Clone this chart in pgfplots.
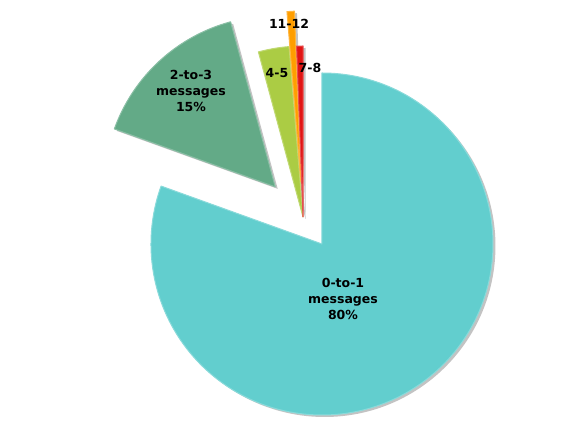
\documentclass[border=0pt]{standalone}
\usepackage{pgfplots}
\pgfplotsset{compat=1.18}
\usepackage{fontspec}
\setmainfont{DejaVu Sans}
\usetikzlibrary{calc}
\definecolor{cA}{RGB}{98,206,206}
\definecolor{cB}{RGB}{99,170,135}
\definecolor{cC}{RGB}{171,204,68}
\definecolor{cD}{RGB}{255,158,0}
\definecolor{cE}{RGB}{225,20,20}
\definecolor{shadowgray}{RGB}{195,195,195}
% slice shares (percent), in drawing order (clockwise from 12 o'clock)
\def\vA{80.5}% 0-to-1 messages
\def\vB{15.3}% 2-to-3 messages
\def\vC{2.9}% 4-5
\def\vD{0.7}% 11-12
\def\vE{0.6}% 7-8
\newcommand\slicepath[3]{% start, end, explode
  ($(axis cs:303,211)+({(#1+#2)/2}:#3pt)$) -- ++(#1:171pt) arc[start angle=#1,end angle=#2,radius=171pt] -- cycle}
\newcommand\shadowslice[3]{%
  \fill[shadowgray] ($(axis cs:305.5,209)+({(#1+#2)/2}:#3pt)$) -- ++(#1:171pt) arc[start angle=#1,end angle=#2,radius=171pt] -- cycle;}
\newcommand\slice[4]{%
  \fill[#4, draw=#4!75!white, line width=1pt, line join=round] \slicepath{#1}{#2}{#3};}
\begin{document}
\begin{tikzpicture}
\pgfmathsetmacro\aA{90}
\pgfmathsetmacro\aB{\aA-3.6*\vA}
\pgfmathsetmacro\aC{\aB-3.6*\vB}
\pgfmathsetmacro\aD{\aC-3.6*\vC}
\pgfmathsetmacro\aE{\aD-3.6*\vD}
\pgfmathsetmacro\aF{\aE-3.6*\vE}
\begin{axis}[scale only axis, width=581pt, height=428pt,
  xmin=0, xmax=581, ymin=0, ymax=428, hide axis, clip=false]
\path (axis cs:0,0) rectangle (axis cs:581,428);
\shadowslice{\aA}{\aB}{33}
\shadowslice{\aB}{\aC}{41}
\shadowslice{\aC}{\aD}{0}
\shadowslice{\aD}{\aE}{35}
\shadowslice{\aE}{\aF}{0}
\slice{\aA}{\aB}{33}{cA}
\slice{\aB}{\aC}{41}{cB}
\slice{\aC}{\aD}{0}{cC}
\slice{\aD}{\aE}{35}{cD}
\slice{\aE}{\aF}{0}{cE}
\tikzset{lab/.style={font=\bfseries\fontsize{12.5}{16}\selectfont, align=center, inner sep=0pt}}
\node[lab] at (axis cs:343,129) {0-to-1\\messages\\80\%};
\node[lab] at (axis cs:191,337) {2-to-3\\messages\\15\%};
\node[lab] at (axis cs:277,355) {4-5};
\node[lab] at (axis cs:289,404) {11-12};
\node[lab] at (axis cs:310,360) {7-8};
\end{axis}
\end{tikzpicture}
\end{document}
